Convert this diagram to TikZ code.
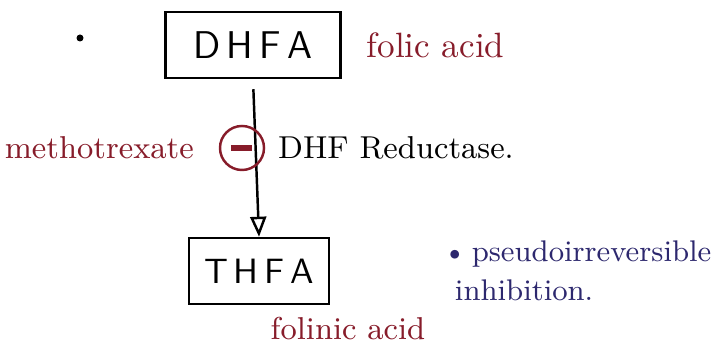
\documentclass[tikz,border=0pt]{standalone}
\usepackage{tikz}
\usetikzlibrary{positioning,arrows.meta}
\definecolor{inkred}{RGB}{135,28,42}
\definecolor{inkblue}{RGB}{45,40,110}

\begin{document}
\begin{tikzpicture}[x=0.01cm, y=-0.01cm, line width=0.7pt,
    box/.style={draw, minimum height=0.66cm, font=\sffamily\fontsize{11}{13}\selectfont},
    note/.style={text=inkred, font=\fontsize{9}{11}\selectfont}]
    \useasboundingbox (0,0) rectangle (721,356);
    \fill (80,38) circle (3.5); % bullet
    \node[box, minimum width=1.75cm] (dhfa) at (253,45) {D\,H\,F\,A};
    \node[box, minimum width=1.4cm, font=\sffamily\fontsize{10}{12}\selectfont] (thfa) at (259,271) {T\,H\,F\,A};
    \draw[-{Triangle[open, length=2mm, width=1.6mm]}, shorten <=0.1cm] (dhfa.south) -- (thfa.north);
    \node[circle, draw=inkred, minimum size=0.44cm, inner sep=0pt] (inh) at (242,148) {}; % inhibition
    \draw[inkred, line width=1.5pt] ([xshift=-0.11cm]inh.center) -- ([xshift=0.1cm]inh.center);
    \node[note, font=\fontsize{10}{12}\selectfont] (folic) [right=0.12cm of dhfa] {folic acid};
    \node[note] (mtx) [left=0.12cm of inh] {methotrexate};
    \node[font=\fontsize{9}{11}\selectfont] (enzyme) [right=0pt of inh] {DHF Reductase.};
    \node[note] (folinic) at (348,329) {folinic acid};
    \node[text=inkblue, align=left, anchor=north west, font=\fontsize{8.5}{11}\selectfont] (pseudo) at (430,228)
        {\textbullet\,pseudoirreversible\\ \hspace{0.12cm}inhibition.};
\end{tikzpicture}
\end{document}
